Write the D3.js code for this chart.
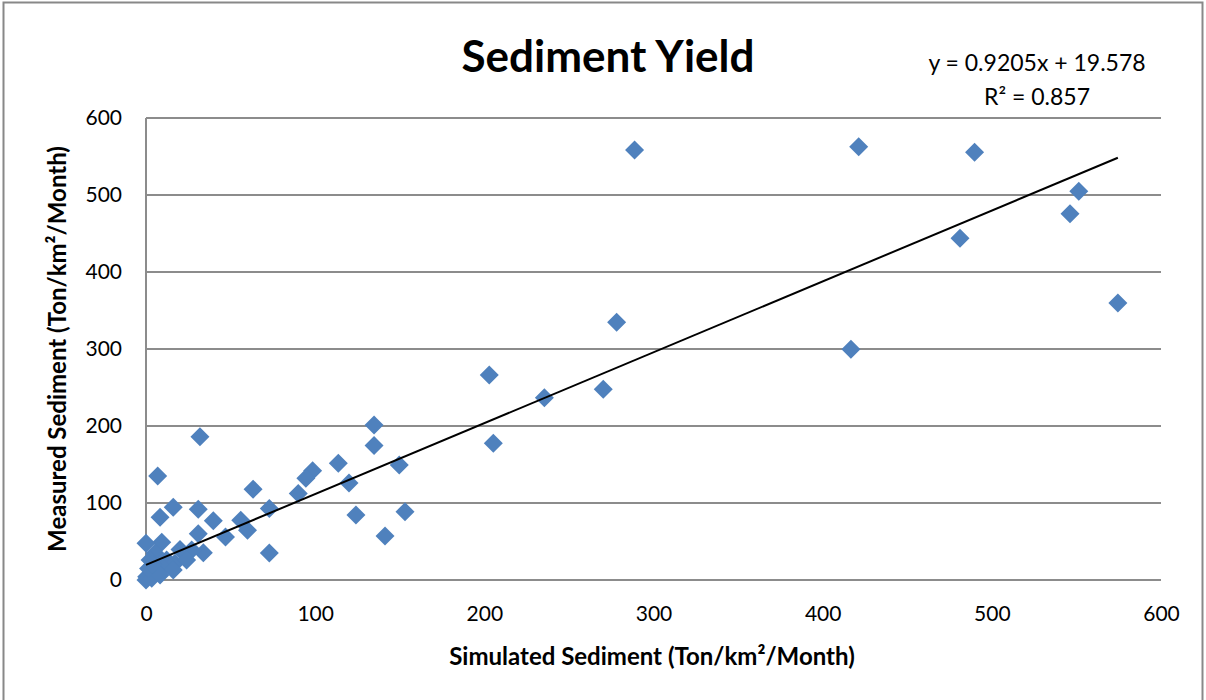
<!DOCTYPE html>
<html>
<head>
<meta charset="utf-8">
<script src="https://cdn.jsdelivr.net/npm/d3@7"></script>
<style>
  body { margin: 0; background: #fff; }
  text { font-family: Lato, "Open Sans", sans-serif; fill: #000; }
</style>
</head>
<body>
<div id="chart"></div>
<script>
// simulated (x) vs measured (y) sediment, Ton/km2/Month
const simulated = [574.5, 551.4, 546.2, 489.8, 481.2, 421.3, 416.7, 288.8, 278.2, 270.3,
  235.5, 205.3, 202.9, 153.1, 149.7, 141.3, 134.8, 134.8, 124.1, 120.0,
  113.7, 98.5, 94.5, 90.0, 72.9, 72.9, 63.3, 60.0, 56.0, 47.0,
  39.8, 33.9, 31.9, 30.9, 30.9, 27.0, 20.1, 16.1, 8.3, 6.9,
  9.3, 0, 5.3, 2.4, 12.2, 17.1, 24.0, 10.2, 16.1, 6.3,
  0.4, 0, 3.4, 8.3, 1.5, 4.0];
const measured = [359.7, 504.8, 475.7, 555.4, 443.7, 562.8, 299.6, 558.4, 334.6, 247.6,
  236.8, 177.5, 266.2, 88.7, 149.4, 57.3, 201.3, 174.8, 84.4, 126.0,
  151.5, 142.0, 132.0, 112.2, 92.7, 35.0, 118.0, 64.5, 77.5, 55.8,
  77.1, 35.5, 186.1, 91.8, 60.2, 39.0, 39.5, 94.4, 81.4, 135.1,
  49.0, 47.6, 34.6, 26.0, 26.0, 21.6, 26.0, 15.2, 13.0, 10.8,
  4.3, 0, 2.2, 6.5, 15.0, 20.0];
const ticks = [0, 100, 200, 300, 400, 500, 600];
const slope = 0.9205, intercept = 19.578;
const eqLines = ["y = 0.9205x + 19.578", "R² = 0.857"];

const W = 1206, H = 700;
const svg = d3.select("#chart").append("svg")
  .attr("width", W).attr("height", H);

// outer chart border
svg.append("rect")
  .attr("x", 3.5).attr("y", 2.5).attr("width", 1199).attr("height", 720)
  .attr("fill", "none").attr("stroke", "#888").attr("stroke-width", 2);

const x = d3.scaleLinear().domain([0, 600]).range([146, 1161]);
const y = d3.scaleLinear().domain([0, 600]).range([580, 118]);

// gridlines
svg.append("g").selectAll("line")
  .data(ticks).enter().append("line")
  .attr("x1", x(0)).attr("x2", x(600))
  .attr("y1", d => y(d)).attr("y2", d => y(d))
  .attr("stroke", "#8c8c8c").attr("stroke-width", 2);

// left axis line
svg.append("line")
  .attr("x1", x(0)).attr("x2", x(0))
  .attr("y1", y(600)).attr("y2", y(0))
  .attr("stroke", "#8c8c8c").attr("stroke-width", 2);

const yAxis = d3.axisLeft(y).tickValues(ticks).tickSize(0).tickPadding(24);
svg.append("g").attr("transform", `translate(${x(0)},0)`).call(yAxis)
  .call(g => g.select(".domain").remove())
  .selectAll("text").style("font-size", "21px");

const xAxis = d3.axisBottom(x).tickValues(ticks).tickSize(0).tickPadding(26);
svg.append("g").attr("transform", `translate(0,${y(0)})`).call(xAxis)
  .call(g => g.select(".domain").remove())
  .selectAll("text").style("font-size", "21px");

// points
const pts = simulated.map((v, i) => ({ sx: v, my: measured[i] }));
svg.append("g").selectAll("path")
  .data(pts).enter().append("path")
  .attr("d", d3.symbol().type(d3.symbolDiamond2).size(230))
  .attr("transform", d => `translate(${x(d.sx)},${y(d.my)})`)
  .attr("fill", "#4f81bd");

// linear trendline
const xmin = d3.min(simulated), xmax = d3.max(simulated);
svg.append("line")
  .attr("x1", x(xmin)).attr("y1", y(slope * xmin + intercept))
  .attr("x2", x(xmax)).attr("y2", y(slope * xmax + intercept))
  .attr("stroke", "#000").attr("stroke-width", 2);

// title
svg.append("text")
  .attr("x", 608).attr("y", 72)
  .attr("text-anchor", "middle")
  .style("font-size", "44px").style("font-weight", "bold")
  .text("Sediment Yield");

// equation
svg.selectAll("text.eq")
  .data(eqLines).enter().append("text")
  .attr("class", "eq")
  .attr("x", 1037).attr("y", (d, i) => 71 + i * 34)
  .attr("text-anchor", "middle")
  .style("font-size", "23px")
  .text(d => d);

// axis titles
svg.append("text")
  .attr("x", 652).attr("y", 665)
  .attr("text-anchor", "middle")
  .style("font-size", "24px").style("font-weight", "bold")
  .text("Simulated Sediment (Ton/km²/Month)");

svg.append("text")
  .attr("transform", "translate(66,349) rotate(-90)")
  .attr("text-anchor", "middle")
  .style("font-size", "24px").style("font-weight", "bold")
  .text("Measured Sediment (Ton/km²/Month)");
</script>
</body>
</html>
